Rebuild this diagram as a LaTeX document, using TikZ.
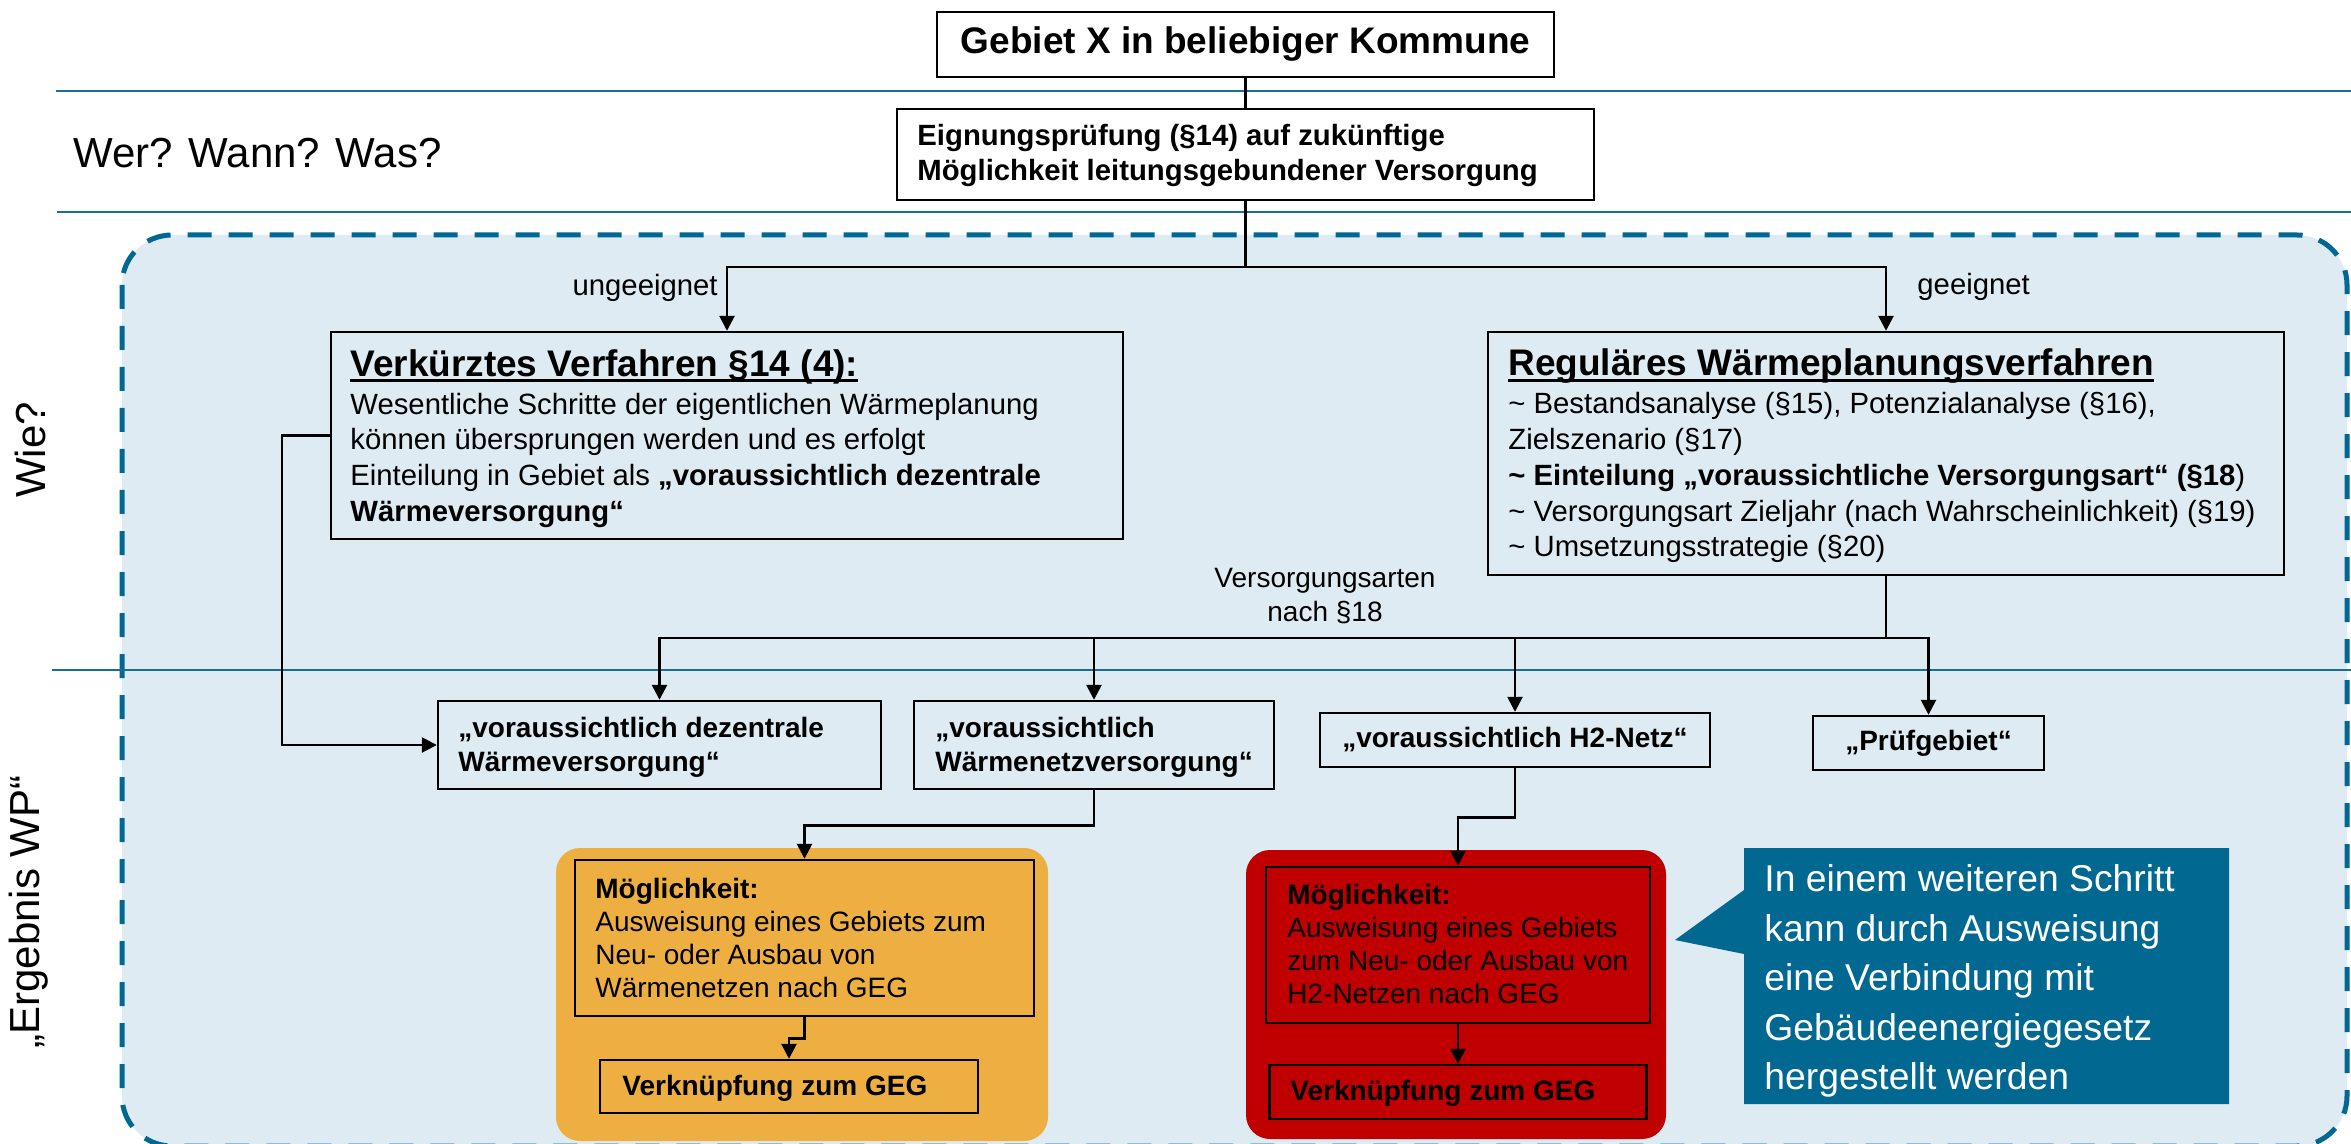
\documentclass[tikz,border=0pt]{standalone}
\usepackage{fontspec}
\setmainfont{Liberation Sans}
\usetikzlibrary{arrows.meta}
\definecolor{dashblue}{RGB}{0,104,146}
\definecolor{lineblue}{RGB}{24,110,150}
\definecolor{areafill}{RGB}{222,235,242}
\definecolor{panelorange}{RGB}{237,175,66}
\definecolor{panelred}{RGB}{192,0,0}
\definecolor{calloutblue}{RGB}{0,104,145}
\newcommand\txtbody{\fontsize{14.65pt}{17.9pt}\selectfont}
\newcommand\txtres{\fontsize{14pt}{17pt}\selectfont}
\newcommand\txtpanel{\fontsize{14pt}{16.6pt}\selectfont}
\newcommand\txttitle{\fontsize{18.5pt}{22pt}\selectfont}
\newcommand\txtside{\fontsize{21pt}{25pt}\selectfont}
\newcommand\txtcall{\fontsize{18.65pt}{24.75pt}\selectfont}
\newsavebox\ulbox
\newcommand\myul[1]{\sbox\ulbox{#1}\rlap{\rule[-3pt]{\wd\ulbox}{1.4pt}}\usebox\ulbox}
\begin{document}
\begin{tikzpicture}[x=0.5pt,y=-0.5pt,
  boxw/.style={draw=black, line width=1.2pt, fill=white, inner sep=0pt},
  boxb/.style={draw=black, line width=1.2pt, fill=areafill, inner sep=0pt},
  boxo/.style={draw=black, line width=1.2pt, inner sep=0pt},
  txt/.style={inner sep=0pt, align=left, anchor=west},
  conn/.style={draw=black, line width=1.3pt},
  arr/.style={conn, -{Triangle[length=7.5pt,width=7.5pt]}},
  sepline/.style={draw=lineblue, line width=1.3pt},
  region/.style={draw=dashblue, line width=2.5pt, dash pattern=on 12pt off 8.5pt, fill=areafill, rounded corners=25pt},
  lbl/.style={inner sep=0pt, font=\txtbody},
  side/.style={inner sep=0pt, font=\txtside}
]
\useasboundingbox (0,0) rectangle (2351,1144);
\clip (0,0) rectangle (2351,1144);
\fill[white] (0,0) rectangle (2351,1144);

% separator lines and region
\draw[sepline] (56,91) -- (2351,91);
\draw[sepline] (57,212) -- (2351,212);
\draw[region] (122,235) rectangle (2347,1146);
\draw[sepline] (52,670) -- (2351,670);

% side labels
\node[side, anchor=west] (werwann) at (73,153) {Wer? Wann? Was?};
\node[side, rotate=90] (wie) at (30,450) {Wie?};
\node[side, rotate=90] (ergebnis) at (29,912) {„Ergebnis WP“};

% panels
\node[fill=panelorange, rounded corners=12pt, minimum width=246pt, minimum height=146.5pt, inner sep=0pt] (opanel) at (802,994.5) {};
\node[fill=panelred, rounded corners=12pt, minimum width=210pt, minimum height=144.5pt, inner sep=0pt] (rpanel) at (1456,994.5) {};

% callout
\fill[calloutblue] (1744,848) -- (2229,848) -- (2229,1104) -- (1744,1104) -- (1744,954) -- (1675,940) -- (1744,890) -- cycle;
\node[txt, font=\txtcall, text=white] (calltxt) at (1764,981) {In einem weiteren Schritt\\kann durch Ausweisung\\eine Verbindung mit\\Gebäudeenergiegesetz\\hergestellt werden};

% coordinates
\coordinate (split1) at (1245.5,267);
\coordinate (split2) at (1886,638);

% boxes
\node[boxw, font=\txttitle\bfseries, minimum width=308.5pt, minimum height=32.5pt] (gebiet) at (1245.5,44.5) {Gebiet X in beliebiger Kommune};
\node[boxw, minimum width=348.5pt, minimum height=45.5pt] (eign) at (1245.5,154.5) {};
\node[boxb, minimum width=396pt, minimum height=103.5pt] (verk) at (727,435.5) {};
\node[boxb, minimum width=398pt, minimum height=121.5pt] (reg) at (1886,453.5) {};
\node[boxb, minimum width=221.5pt, minimum height=44pt] (dez) at (659.5,745) {};
\node[boxb, minimum width=180pt, minimum height=44pt] (wn) at (1094,745) {};
\node[boxb, font=\txtres\bfseries, minimum width=195pt, minimum height=27pt] (h2) at (1515,740) {„voraussichtlich H2-Netz“};
\node[boxb, font=\txtres\bfseries, minimum width=115.5pt, minimum height=27pt] (pruef) at (1928.5,743) {„Prüfgebiet“};
\node[boxo, minimum width=229.5pt, minimum height=78pt] (om) at (804.5,938) {};
\node[boxo, minimum width=189pt, minimum height=26.5pt] (ov) at (789,1086.5) {};
\node[boxo, minimum width=192pt, minimum height=78pt] (rm) at (1458,945) {};
\node[boxo, minimum width=188.5pt, minimum height=27pt] (rv) at (1458,1092) {};

% box texts
\node[txt, font=\txtbody\bfseries] (eigntxt) at (917,155.5) {Eignungsprüfung (§14) auf zukünftige\\Möglichkeit leitungsgebundener Versorgung};
\node[txt, font=\txtbody] (verktxt) at (350,438.5) {{\txttitle\bfseries\myul{Verkürztes Verfahren §14 (4):}}\\[1pt]Wesentliche Schritte der eigentlichen Wärmeplanung\\können übersprungen werden und es erfolgt\\Einteilung in Gebiet als \textbf{„voraussichtlich dezentrale}\\\textbf{Wärmeversorgung“}};
\node[txt, font=\txtbody] (regtxt) at (1508,456) {{\txttitle\bfseries\myul{Reguläres Wärmeplanungsverfahren}}\\[1pt]\textasciitilde{} Bestandsanalyse (§15), Potenzialanalyse (§16),\\Zielszenario (§17)\\\textbf{\textasciitilde{} Einteilung „voraussichtliche Versorgungsart“ (§18})\\\textasciitilde{} Versorgungsart Zieljahr (nach Wahrscheinlichkeit) (§19)\\\textasciitilde{} Umsetzungsstrategie (§20)};
\node[txt, font=\txtres\bfseries] (deztxt) at (458,747) {„voraussichtlich dezentrale\\Wärmeversorgung“};
\node[txt, font=\txtres\bfseries] (wntxt) at (935,747) {„voraussichtlich\\Wärmenetzversorgung“};
\node[txt, font=\txtpanel] (omtxt) at (595,938) {\textbf{Möglichkeit:}\\Ausweisung eines Gebiets zum\\Neu- oder Ausbau von\\Wärmenetzen nach GEG};
\node[txt, font=\txtpanel\bfseries] (ovtxt) at (622,1088) {Verknüpfung zum GEG};
\node[txt, font=\txtpanel] (rmtxt) at (1287,944) {\textbf{Möglichkeit:}\\Ausweisung eines Gebiets\\zum Neu- oder Ausbau von\\H2-Netzen nach GEG};
\node[txt, font=\txtpanel\bfseries] (rvtxt) at (1290,1093) {Verknüpfung zum GEG};

% connector labels
\node[lbl, anchor=east] (ungeeignet) at (718,288) {ungeeignet};
\node[lbl, anchor=west] (geeignet) at (1917,287) {geeignet};
\node[lbl, font=\txtres, align=center] (versarten) at (1325,596) {Versorgungsarten\\nach §18};

% connectors
\draw[conn] (gebiet.south) -- (eign.north);
\draw[conn] (eign.south) -- (split1);
\draw[arr] (split1) -| (verk.north);
\draw[arr] (split1) -| (reg.north);
\draw[conn] (reg.south) -- (split2);
\draw[arr] (split2) -| (dez.north);
\draw[arr] (split2) -| (wn.north);
\draw[arr] (split2) -| (h2.north);
\draw[arr] (split2) -| (pruef.north);
\draw[arr] (verk.west) -- ++(-48,0) |- (dez.west);
\draw[arr] (wn.south) -- ++(0,35) -| (om.north);
\draw[arr] (om.south) -- ++(0,21) -| (ov.north);
\draw[arr] (h2.south) -- ++(0,49) -| (rm.north);
\draw[arr] (rm.south) -- (rv.north);
\end{tikzpicture}
\end{document}
